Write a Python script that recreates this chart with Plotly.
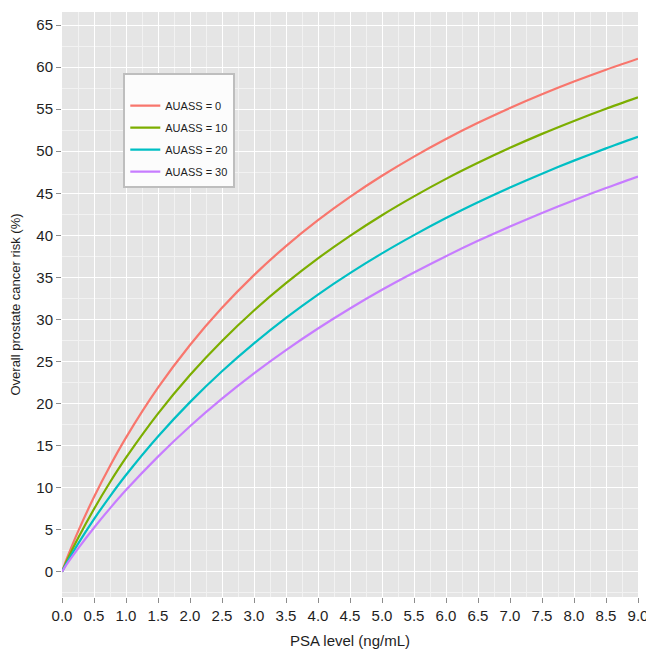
import plotly.graph_objects as go

psa = [0.0, 0.05, 0.1, 0.25, 0.5, 0.75, 1.0, 1.5, 2.0, 2.5, 3.0, 3.5, 4.0, 4.5,
       5.0, 5.5, 6.0, 6.5, 7.0, 7.5, 8.0, 8.5, 9.0]

risk_auass_0 = [0.0, 1.06, 2.04, 4.77, 8.89, 12.58, 15.95, 21.88, 26.96, 31.38, 35.27,
                38.72, 41.80, 44.57, 47.08, 49.36, 51.45, 53.37, 55.14, 56.77, 58.28,
                59.69, 61.00]
risk_auass_10 = [0.0, 0.88, 1.69, 3.98, 7.46, 10.64, 13.56, 18.80, 23.39, 27.44, 31.06,
                 34.31, 37.26, 39.94, 42.39, 44.63, 46.71, 48.62, 50.40, 52.06, 53.60,
                 55.04, 56.40]
risk_auass_20 = [0.0, 0.73, 1.40, 3.32, 6.26, 8.97, 11.50, 16.08, 20.17, 23.84, 27.16,
                 30.19, 32.96, 35.50, 37.85, 40.02, 42.05, 43.93, 45.69, 47.33, 48.88,
                 50.34, 51.71]
risk_auass_30 = [0.0, 0.60, 1.17, 2.76, 5.24, 7.54, 9.71, 13.69, 17.30, 20.58, 23.59,
                 26.36, 28.92, 31.30, 33.52, 35.58, 37.52, 39.34, 41.05, 42.66, 44.18,
                 45.62, 46.99]

series_names = ["AUASS = 0", "AUASS = 10", "AUASS = 20", "AUASS = 30"]
series_values = [risk_auass_0, risk_auass_10, risk_auass_20, risk_auass_30]
colors = ["#F8766D", "#7CAE00", "#00BFC4", "#C77CFF"]

x_ticks = [i * 0.5 for i in range(19)]
x_tick_labels = [f"{v:.1f}" for v in x_ticks]
y_ticks = list(range(0, 70, 5))

FONT = "Liberation Sans, Arial, sans-serif"
TXT = "#1E1E1E"

fig = go.Figure()
for i, (name, vals, col) in enumerate(zip(series_names, series_values, colors)):
    fig.add_trace(go.Scatter(
        x=psa, y=vals, mode="lines", name=name,
        line=dict(color=col, width=2.2, shape="spline", smoothing=0.8),
        legendgroup=f"g{i}",
    ))

# page has an 8px body margin, so the figure is sized to fill the rest of the window
fig.update_layout(
    width=646, height=648,
    margin=dict(l=54, r=16, t=4, b=59, autoexpand=False),
    paper_bgcolor="white",
    plot_bgcolor="#E5E5E5",
    font=dict(family=FONT, color=TXT),
    showlegend=True,
    legend=dict(
        x=0.1064, y=0.895, xanchor="left", yanchor="top",
        bgcolor="#FCFCFC", bordercolor="#BEBEBE", borderwidth=2,
        font=dict(size=11, family=FONT, color=TXT),
        tracegroupgap=3,
        title=dict(text=" ", font=dict(size=12)),
        itemwidth=30,
    ),
)

fig.update_xaxes(
    range=[0, 9], tickmode="array", tickvals=x_ticks, ticktext=x_tick_labels,
    automargin=False,
    showgrid=True, gridcolor="white", gridwidth=1.3,
    zeroline=False, showline=False,
    ticks="outside", ticklen=5, tickcolor="#8C8C8C", tickwidth=1,
    tickfont=dict(size=15, family=FONT, color=TXT),
    minor=dict(dtick=0.25, showgrid=True, gridcolor="#F2F2F2", gridwidth=0.7, ticks=""),
    title=dict(text="PSA level (ng/mL)", font=dict(size=15, family=FONT, color=TXT),
               standoff=12),
)
fig.update_yaxes(
    range=[-3.0, 66.55], tickmode="array", tickvals=y_ticks,
    automargin=False,
    showgrid=True, gridcolor="white", gridwidth=1.3,
    zeroline=False, showline=False,
    ticks="outside", ticklen=5, tickcolor="#8C8C8C", tickwidth=1,
    tickfont=dict(size=15, family=FONT, color=TXT),
    minor=dict(dtick=2.5, showgrid=True, gridcolor="#F2F2F2", gridwidth=0.7, ticks=""),
    title=dict(text="Overall prostate cancer risk (%)",
               font=dict(size=13, family=FONT, color=TXT), standoff=12),
)

fig.write_html("out.html")
